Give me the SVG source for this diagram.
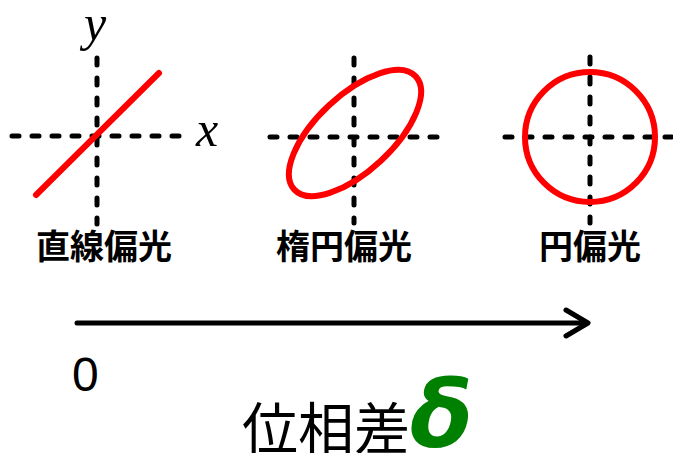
<svg xmlns="http://www.w3.org/2000/svg" width="673" height="453" viewBox="0 0 673 453">
<style>
.ax{stroke:#000;stroke-width:5;stroke-dasharray:7 13;stroke-linecap:round;fill:none}
.red{stroke:#f00;stroke-width:6;fill:none;stroke-linecap:round}
.lbl{font-family:"Noto Sans CJK JP","Noto Sans",sans-serif;font-weight:bold;font-size:34px;text-anchor:middle;fill:#000}
.var{font-family:"Liberation Serif",serif;font-style:italic;font-size:50px;fill:#000}
</style>
<rect width="673" height="453" fill="#fff"/>
<g id="linear">
<line class="ax" x1="12" y1="136" x2="181" y2="136"/>
<line class="ax" x1="97" y1="58" x2="97" y2="224"/>
<line class="red" x1="36" y1="195" x2="159" y2="73"/>
<text class="var" x="196" y="146">x</text>
<text class="var" x="84" y="40">y</text>
<text class="lbl" x="104" y="259">直線偏光</text>
</g>
<g id="elliptical">
<line class="ax" x1="270" y1="137" x2="438" y2="137"/>
<line class="ax" x1="354" y1="58" x2="354" y2="223"/>
<ellipse class="red" cx="355" cy="133" rx="83" ry="38" transform="rotate(-43 355 133)"/>
<text class="lbl" x="344" y="259">楕円偏光</text>
</g>
<g id="circular">
<line class="ax" x1="505" y1="137" x2="673" y2="137"/>
<line class="ax" x1="590" y1="57" x2="590" y2="223"/>
<circle class="red" cx="590" cy="137" r="65"/>
<text class="lbl" x="590" y="259">円偏光</text>
</g>
<g id="connectors">
<line x1="77" y1="323" x2="586" y2="323" stroke="#000" stroke-width="5" stroke-linecap="round"/>
<polyline points="566,310 588,323 566,336" fill="none" stroke="#000" stroke-width="5" stroke-linecap="round" stroke-linejoin="round"/>
</g>
<g id="axis-label">
<text x="72" y="391" font-family="Liberation Sans,sans-serif" font-size="48" fill="#000">0</text>
<text x="242" y="449" font-family="Noto Sans CJK JP,sans-serif" font-size="56" fill="#000">位相差</text>
<text x="410" y="447" font-family="DejaVu Sans,sans-serif" font-weight="bold" font-style="italic" font-size="92" fill="#008000">δ</text>
</g>
</svg>
